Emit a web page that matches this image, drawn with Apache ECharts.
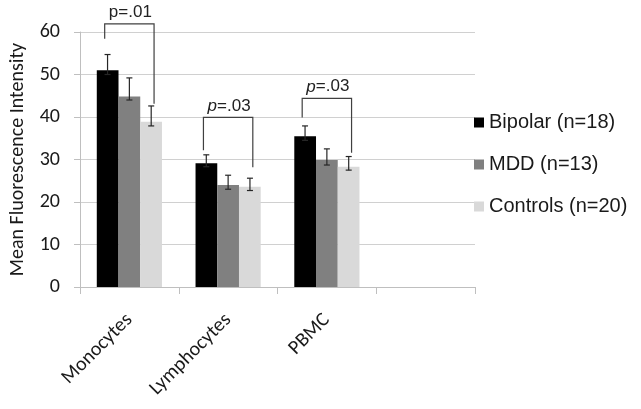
<!DOCTYPE html>
<html>
<head>
<meta charset="utf-8">
<script src="https://cdn.jsdelivr.net/npm/echarts@6/dist/echarts.min.js"></script>
<style>html,body{margin:0;padding:0;background:#fff;}#c{width:641px;height:409px;}</style>
</head>
<body>
<div id="c"></div>
<script>
var categories = ['Monocytes', 'Lymphocytes', 'PBMC', ''];
var seriesNames = ['Bipolar (n=18)', 'MDD (n=13)', 'Controls (n=20)'];
var bipolar = [51.0, 29.1, 35.5];
var mdd = [44.8, 24.0, 29.9];
var controls = [38.9, 23.6, 28.3];
// error bars: [categoryIndex, low, high]
var bipolarErr = [[0, 50.0, 54.7], [1, 28.3, 31.1], [2, 34.5, 37.9]];
var mddErr = [[0, 44.0, 49.2], [1, 23.0, 26.3], [2, 28.7, 32.5]];
var controlsErr = [[0, 37.9, 42.6], [1, 22.7, 25.6], [2, 27.5, 30.7]];
// brackets: [categoryIndex, top, leftBottom, rightBottom, italicP(0/1)]
var brackets = [[0, 61.9, 58.4, 43.1, 0], [1, 39.9, 32.2, 28.2, 1], [2, 44.4, 39.9, 31.6, 1]];
var bracketLabels = ['.01', '.03', '.03'];
var yTicks = {min: 0, max: 60, interval: 10};

var axisFont = 'Carlito, Lato, sans-serif';
var chart = echarts.init(document.getElementById('c'), null, {renderer: 'canvas'});

function errRender(offsetFrac) {
  return function (params, api) {
    var idx = api.value(0);
    var band = api.size([1, 0])[0];
    var lo = api.coord([idx, api.value(1)]);
    var hi = api.coord([idx, api.value(2)]);
    var x = lo[0] + band * offsetFrac;
    var cw = 3;
    var st = {stroke: '#262626', lineWidth: 1.2};
    return {
      type: 'group',
      children: [
        {type: 'line', shape: {x1: x, y1: lo[1], x2: x, y2: hi[1]}, style: st},
        {type: 'line', shape: {x1: x - cw, y1: lo[1], x2: x + cw, y2: lo[1]}, style: st},
        {type: 'line', shape: {x1: x - cw, y1: hi[1], x2: x + cw, y2: hi[1]}, style: st}
      ]
    };
  };
}

function bracketRender(params, api) {
  var idx = api.value(0);
  var band = api.size([1, 0])[0];
  var top = api.coord([idx, api.value(1)]);
  var lb = api.coord([idx, api.value(2)]);
  var rb = api.coord([idx, api.value(3)]);
  var xl = top[0] - band * 0.25;
  var xr = top[0] + band * 0.25;
  var st = {stroke: '#404040', lineWidth: 1.2, fill: null};
  var italic = api.value(4) === 1;
  var lab = bracketLabels[params.dataIndex];
  return {
    type: 'group',
    children: [
      {type: 'polyline', shape: {points: [[xl, lb[1]], [xl, top[1]], [xr, top[1]], [xr, rb[1]]]}, style: st},
      {type: 'text', x: top[0] + 1, y: top[1] - 3,
        style: {
          text: '{p|p}{n|=' + lab + '}',
          textAlign: 'center', textVerticalAlign: 'bottom',
          rich: {
            p: {fontFamily: 'Liberation Sans, Arial, sans-serif', fontSize: 17, fontStyle: italic ? 'italic' : 'normal', fill: '#222'},
            n: {fontFamily: 'Liberation Sans, Arial, sans-serif', fontSize: 17, fill: '#222'}
          }
        }}
    ]
  };
}

var option = {
  animation: false,
  backgroundColor: '#fff',
  grid: {left: 78, right: 166, top: 32, bottom: 122},
  legend: {
    orient: 'vertical', left: 469, top: 106,
    data: seriesNames,
    icon: 'rect', itemWidth: 10, itemHeight: 10, itemGap: 19,
    textStyle: {fontFamily: 'Liberation Sans, Arial, sans-serif', fontSize: 20, color: '#1a1a1a', lineHeight: 23}
  },
  xAxis: {
    type: 'category', data: categories,
    axisLine: {lineStyle: {color: '#bfbfbf', width: 1}},
    axisTick: {show: true, length: 7, lineStyle: {color: '#bfbfbf'}},
    axisLabel: {interval: 0, rotate: 45, fontSize: 20, fontFamily: axisFont, color: '#1a1a1a', margin: 30}
  },
  yAxis: {
    type: 'value', min: yTicks.min, max: yTicks.max, interval: yTicks.interval,
    name: 'Mean Fluorescence Intensity', nameLocation: 'middle', nameGap: 52,
    nameTextStyle: {fontSize: 20, fontFamily: axisFont, color: '#1a1a1a'},
    axisLine: {show: true, lineStyle: {color: '#bfbfbf'}},
    axisTick: {show: true, length: 6, lineStyle: {color: '#bfbfbf'}},
    axisLabel: {fontSize: 20, fontFamily: axisFont, color: '#1a1a1a', margin: 20},
    splitLine: {lineStyle: {color: '#d0d0d0', width: 1}}
  },
  series: [
    {name: seriesNames[0], type: 'bar', data: bipolar, barGap: '0%', barCategoryGap: '34%', itemStyle: {color: '#000000'}},
    {name: seriesNames[1], type: 'bar', data: mdd, barGap: '0%', barCategoryGap: '34%', itemStyle: {color: '#808080'}},
    {name: seriesNames[2], type: 'bar', data: controls, barGap: '0%', barCategoryGap: '34%', itemStyle: {color: '#d9d9d9'}},
    {type: 'custom', renderItem: errRender(-0.221), data: bipolarErr, encode: {x: 0, y: [1, 2]}, z: 5, silent: true},
    {type: 'custom', renderItem: errRender(0), data: mddErr, encode: {x: 0, y: [1, 2]}, z: 5, silent: true},
    {type: 'custom', renderItem: errRender(0.221), data: controlsErr, encode: {x: 0, y: [1, 2]}, z: 5, silent: true},
    {type: 'custom', renderItem: bracketRender, data: brackets, encode: {x: 0, y: [1, 2, 3]}, z: 6, silent: true, clip: false}
  ]
};
chart.setOption(option);
</script>
</body>
</html>
